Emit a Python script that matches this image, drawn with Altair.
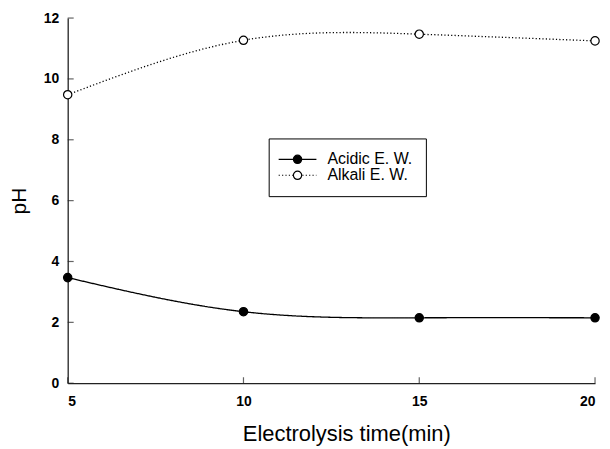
import altair as alt
import pandas as pd

times = [5, 10, 15, 20]
acidic = [3.47, 2.35, 2.15, 2.15]
alkali = [9.48, 11.27, 11.47, 11.25]
series_names = ["Acidic E. W.", "Alkali E. W."]
marker_names = ["Acidic marker", "Alkali marker"]
x_ticks = [5, 10, 15, 20]
y_ticks = [0, 2, 4, 6, 8, 10, 12]

FONT = "Liberation Sans"

df = pd.DataFrame({
    "time": times * 2,
    "pH": acidic + alkali,
    "series": [series_names[0]] * len(times) + [series_names[1]] * len(times),
    "marker": [marker_names[0]] * len(times) + [marker_names[1]] * len(times),
})
xt = pd.DataFrame({"time": x_ticks})
yt = pd.DataFrame({"pH": y_ticks})

x_enc = alt.X("time:Q", scale=alt.Scale(domain=[5, 20], nice=False),
              axis=alt.Axis(values=x_ticks, title="Electrolysis time(min)", grid=False,
                            ticks=False, tickSize=0, labelPadding=11,
                            labelFont=FONT, labelFontSize=14, labelFontWeight="bold",
                            labelColor="black", titleFont=FONT, titleFontSize=22,
                            titleFontWeight="normal", titleColor="black", titlePadding=16,
                            titleX=280, titleAlign="center",
                            domainColor="#222", domainWidth=1.3))
y_enc = alt.Y("pH:Q", scale=alt.Scale(domain=[0, 12], nice=False),
              axis=alt.Axis(values=y_ticks, title="pH", grid=False,
                            ticks=False, tickSize=0, labelPadding=9,
                            labelFont=FONT, labelFontSize=14, labelFontWeight="bold",
                            labelColor="black", titleFont=FONT, titleFontSize=21,
                            titleFontWeight="normal", titleColor="black", titlePadding=14,
                            domainColor="#222", domainWidth=1.3))

legend_x, legend_y = 202, 121
common = dict(orient="none", legendX=legend_x, legendY=legend_y, title=None,
              symbolOffset=8, labelOffset=22, labelFont=FONT, labelFontSize=16,
              labelLimit=0, padding=13, rowPadding=0)

line = alt.Chart(df).mark_line(interpolate="natural", color="black", strokeWidth=1.3).encode(
    x=x_enc, y=y_enc,
    strokeDash=alt.StrokeDash(
        "series:N",
        scale=alt.Scale(domain=series_names, range=[[1, 0], [1.2, 2.2]]),
        legend=alt.Legend(symbolType="M-4,0L4,0", symbolSize=90, symbolStrokeColor="black",
                          symbolStrokeWidth=1.2, labelColor="black",
                          strokeColor="black", fillColor="white", zindex=0, **common),
    ),
)

points = alt.Chart(df).mark_point(filled=True, size=70, stroke="black", strokeWidth=1.2,
                                  opacity=1).encode(
    x="time:Q", y="pH:Q",
    fill=alt.Fill(
        "marker:N",
        scale=alt.Scale(domain=marker_names, range=["black", "white"]),
        legend=alt.Legend(symbolType="circle", symbolSize=70, symbolStrokeColor="black",
                          symbolStrokeWidth=1.2, labelColor="rgba(0,0,0,0)",
                          labelExpr="''", zindex=1, **common),
    ),
)

yticks = alt.Chart(yt).mark_tick(orient="horizontal", size=6, xOffset=3, color="#222",
                                 thickness=1.2).encode(
    y="pH:Q", x=alt.datum(5)
)
xticks = alt.Chart(xt).mark_tick(orient="vertical", size=6, yOffset=-3, color="#222",
                                 thickness=1.2).encode(
    x="time:Q", y=alt.datum(0)
)

chart = alt.layer(line, points, yticks, xticks).properties(
    width=530, height=367,
    padding={"left": 0, "top": 2, "right": 0, "bottom": 0},
    background="white",
).configure_view(stroke=None)

chart.save("out.html", embed_options={"renderer": "svg", "actions": False})
